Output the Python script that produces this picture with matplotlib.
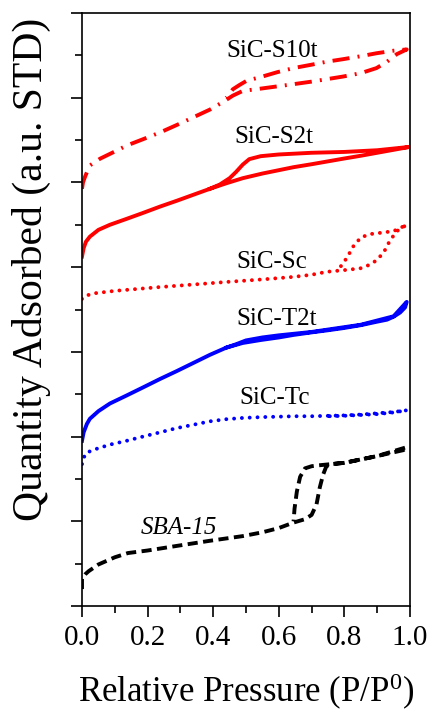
import numpy as np
import matplotlib
matplotlib.use('Agg')
import matplotlib.pyplot as plt

plt.rcParams['font.family'] = ['Liberation Serif', 'DejaVu Serif']
plt.rcParams['mathtext.default'] = 'regular'

# isotermas (adsorcao + dessorcao), eixo y em unidades arbitrarias
sba_x = [0.0, 0.0, 0.01, 0.02, 0.05, 0.1, 0.14, 0.2, 0.29, 0.39, 0.49, 0.55, 0.6, 0.645, 0.68,
         0.70, 0.715, 0.725, 0.735, 0.745, 0.76, 0.8, 0.9, 0.98, 0.99,
         0.9, 0.8, 0.72, 0.70, 0.68, 0.665, 0.655, 0.648, 0.645]
sba_y = [0.4, 0.65, 0.75, 0.82, 0.98, 1.15, 1.25, 1.31, 1.42, 1.54, 1.65, 1.74, 1.84, 1.97, 2.05,
         2.15, 2.4, 2.8, 3.1, 3.3, 3.35, 3.38, 3.54, 3.68, 3.75,
         3.54, 3.38, 3.32, 3.3, 3.25, 3.05, 2.7, 2.3, 2.0]

tc_x = [0.0, 0.005, 0.014, 0.04, 0.085, 0.136, 0.186, 0.238, 0.289, 0.34, 0.39, 0.44, 0.49,
        0.55, 0.6, 0.65, 0.7, 0.75, 0.8, 0.85, 0.9, 0.95, 0.99,
        0.95, 0.9, 0.85, 0.8, 0.75]
tc_y = [3.35, 3.5, 3.62, 3.7, 3.81, 3.9, 4.0, 4.1, 4.2, 4.28, 4.36, 4.41, 4.44,
        4.46, 4.47, 4.48, 4.48, 4.49, 4.5, 4.52, 4.55, 4.58, 4.62,
        4.57, 4.53, 4.51, 4.49, 4.48]

t2t_x = [0.0, 0.005, 0.015, 0.024, 0.05, 0.085, 0.136, 0.186, 0.238, 0.29, 0.34, 0.39, 0.44,
         0.49, 0.545, 0.6, 0.645, 0.7, 0.75, 0.796, 0.85, 0.898, 0.93, 0.95, 0.97, 0.985, 0.99,
         0.95, 0.85, 0.7, 0.6, 0.55, 0.5, 0.47, 0.44]
t2t_y = [3.9, 4.1, 4.3, 4.42, 4.6, 4.78, 4.97, 5.16, 5.36, 5.55, 5.74, 5.93, 6.1,
         6.21, 6.28, 6.34, 6.4, 6.46, 6.51, 6.56, 6.63, 6.71, 6.76, 6.83, 6.93, 7.05, 7.18,
         6.84, 6.64, 6.47, 6.39, 6.34, 6.27, 6.18, 6.1]

sc_x = [0.0, 0.01, 0.035, 0.1, 0.238, 0.34, 0.44, 0.55, 0.645, 0.7, 0.746, 0.8, 0.848, 0.875,
        0.898, 0.92, 0.939, 0.96, 0.98, 0.99,
        0.95, 0.9, 0.878, 0.85, 0.826, 0.81, 0.796, 0.78]
sc_y = [7.25, 7.32, 7.38, 7.44, 7.53, 7.59, 7.65, 7.71, 7.77, 7.82, 7.89, 7.93, 7.97, 8.05,
        8.16, 8.35, 8.63, 8.85, 8.95, 9.0,
        8.85, 8.8, 8.78, 8.7, 8.48, 8.25, 8.09, 7.93]

s2t_x = [0.0, 0.005, 0.012, 0.024, 0.05, 0.085, 0.136, 0.186, 0.238, 0.29, 0.34, 0.39, 0.44,
         0.49, 0.55, 0.645, 0.7, 0.796, 0.85, 0.9, 0.95, 1.0,
         0.9, 0.8, 0.7, 0.6, 0.545, 0.51, 0.49, 0.47, 0.45, 0.42, 0.39]
s2t_y = [8.25, 8.45, 8.6, 8.72, 8.88, 9.0, 9.14, 9.28, 9.43, 9.57, 9.71, 9.85, 9.98,
         10.1, 10.21, 10.36, 10.43, 10.56, 10.63, 10.7, 10.77, 10.84,
         10.76, 10.72, 10.7, 10.66, 10.62, 10.55, 10.42, 10.25, 10.1, 9.95, 9.85]

s10t_x = [0.0, 0.003, 0.01, 0.024, 0.055, 0.1, 0.136, 0.186, 0.238, 0.29, 0.34, 0.39, 0.43,
          0.46, 0.49, 0.55, 0.645, 0.7, 0.796, 0.85, 0.898, 0.93, 0.96, 0.99,
          0.95, 0.898, 0.85, 0.796, 0.746, 0.7, 0.645, 0.594, 0.55, 0.502, 0.48, 0.46, 0.44]
s10t_y = [9.85, 10.0, 10.15, 10.4, 10.56, 10.73, 10.87, 11.02, 11.18, 11.36, 11.54, 11.72, 11.9,
          12.05, 12.16, 12.22, 12.32, 12.38, 12.5, 12.58, 12.7, 12.85, 13.03, 13.14,
          13.11, 13.05, 12.98, 12.91, 12.85, 12.78, 12.7, 12.6, 12.5, 12.4, 12.3, 12.2, 12.0]

rotulos = ['SBA-15', 'SiC-Tc', 'SiC-T2t', 'SiC-Sc', 'SiC-S2t', 'SiC-S10t']
rotulos_x = [0.296, 0.588, 0.592, 0.58, 0.585, 0.58]
rotulos_y = [1.83, 4.92, 6.78, 8.12, 11.08, 13.1]

vermelho = '#ff0000'
azul = '#0000ff'

fig = plt.figure(figsize=(4.29, 7.13), dpi=100)
ax = fig.add_axes([82 / 429, 1 - 606 / 713, 328 / 429, 593 / 713])

lw = 2.8
ax.plot(sba_x, sba_y, color='black', lw=lw, linestyle=(0, (2.6, 1.4)))
ax.plot(tc_x, tc_y, color=azul, lw=lw, linestyle=(0, (0.01, 2.0)), dash_capstyle='round')
ax.plot(t2t_x, t2t_y, color=azul, lw=lw, solid_joinstyle='round')
ax.plot(sc_x, sc_y, color=vermelho, lw=lw, linestyle=(0, (0.01, 2.0)), dash_capstyle='round')
ax.plot(s2t_x, s2t_y, color=vermelho, lw=lw, solid_joinstyle='round')
ax.plot(s10t_x, s10t_y, color=vermelho, lw=lw, linestyle=(0, (4.4, 2.1, 0.5, 2.1)))

for i, r in enumerate(rotulos):
    ax.text(rotulos_x[i], rotulos_y[i], r, ha='center', va='center', fontsize=18,
            style='italic' if r == 'SBA-15' else 'normal')

ax.set_xlim(0, 1)
ax.set_ylim(0, 14)
ax.set_xticks(np.arange(0, 1.01, 0.2))
ax.set_xticks(np.arange(0.1, 1.0, 0.2), minor=True)
ax.set_yticks(np.arange(0, 15, 2))
ax.set_yticks(np.arange(1, 14, 2), minor=True)
ax.set_yticklabels([])
ax.tick_params(axis='both', which='major', direction='out', length=8, width=1.2)
ax.tick_params(axis='both', which='minor', direction='out', length=5, width=1.2)
ax.tick_params(axis='x', labelsize=21, pad=6)
for s in ax.spines.values():
    s.set_linewidth(1.2)

ax.set_xlabel('Relative Pressure (P/P$^{0}$)', fontsize=25)
ax.set_ylabel('Quantity Adsorbed (a.u. STD)', fontsize=30)
ax.xaxis.label.set_verticalalignment('center')
ax.yaxis.label.set_verticalalignment('center')
ax.xaxis.set_label_coords(0.5, -0.145)
ax.yaxis.set_label_coords(-0.155, 0.567)

plt.savefig('out.png', dpi=100)
